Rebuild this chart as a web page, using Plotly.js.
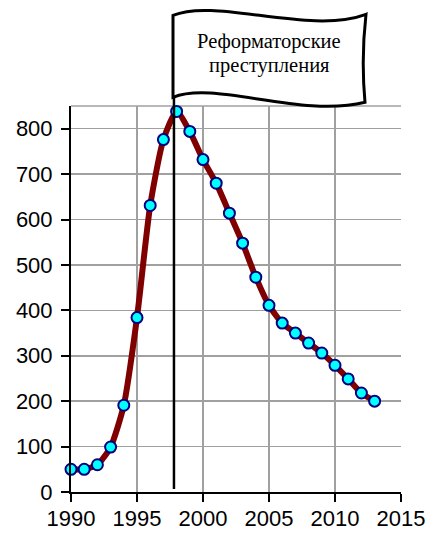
<!DOCTYPE html>
<html>
<head>
<meta charset="utf-8">
<script src="https://cdn.plot.ly/plotly-3.0.1.min.js"></script>
<style>html,body{margin:0;padding:0;background:#fff;}#chart{width:430px;height:533px;}</style>
</head>
<body>
<div id="chart"></div>
<script>
var years = [1990,1991,1992,1993,1994,1995,1996,1997,1998,1999,2000,2001,2002,2003,2004,2005,2006,2007,2008,2009,2010,2011,2012,2013];
var crimes = [50,50,60,99,191,384,631,776,838,794,732,680,614,548,473,411,372,350,328,306,279,249,218,200];
var flagLines = ["Реформаторские", "преступления"];
var markerYear = 1997.8;

// plot area in pixels: left 71, right 401, top 105.7, bottom 492
var L = 71, R = 401, T = 105.7, B = 492;
function px(x){ return ((x - L) / (R - L)).toFixed(4); }
function py(y){ return ((B - y) / (B - T)).toFixed(4); }
function P(x, y){ return px(x) + ',' + py(y); }

var flagPath = 'M' + P(173,15) +
  ' C' + P(215,-3) + ' ' + P(310,35) + ' ' + P(366,14) +
  ' Q' + P(361,58) + ' ' + P(365,102) +
  ' C' + P(300,118) + ' ' + P(215,80) + ' ' + P(173,97) + ' Z';

var trace = {
  x: years, y: crimes, type: 'scatter', mode: 'lines+markers',
  line: {color: '#800000', width: 6, shape: 'spline', smoothing: 0.6},
  marker: {size: 11, color: '#00ffff', line: {color: '#000080', width: 2}},
  cliponaxis: false, hoverinfo: 'x+y'
};

var tf = {family: 'Liberation Sans, Arial, sans-serif', size: 22, color: '#000'};

var layout = {
  width: 430, height: 533,
  margin: {l: L, r: 430 - R, t: T, b: 533 - B, pad: 0},
  paper_bgcolor: '#fff', plot_bgcolor: '#fff',
  showlegend: false,
  font: tf,
  xaxis: {
    range: [1990, 2015], dtick: 5, tick0: 1990,
    ticks: 'outside', ticklen: 8, tickwidth: 2, tickcolor: '#000',
    showline: true, linecolor: '#000', linewidth: 2,
    showgrid: true, gridcolor: '#a0a0a0', gridwidth: 1.5, zeroline: false,
    ticklabelstandoff: -2,
    tickfont: tf
  },
  yaxis: {
    range: [0, 850], dtick: 100, tick0: 0,
    ticks: 'outside', ticklen: 8, tickwidth: 2, tickcolor: '#000',
    showline: true, linecolor: '#000', linewidth: 2,
    showgrid: true, gridcolor: '#a0a0a0', gridwidth: 1.5, zeroline: false,
    ticklabelstandoff: 4,
    tickfont: tf
  },
  shapes: [
    {type: 'line', xref: 'paper', yref: 'paper', x0: 0, x1: 1, y0: 1, y1: 1,
     line: {color: '#a0a0a0', width: 1.5}, layer: 'below'},
    {type: 'line', xref: 'x', yref: 'paper', x0: markerYear, x1: markerYear, y0: 0.008, y1: py(15),
     line: {color: '#000', width: 2.5}, layer: 'above'},
    {type: 'path', xref: 'paper', yref: 'paper', path: flagPath,
     fillcolor: '#fff', line: {color: '#000', width: 3}, layer: 'above'}
  ],
  annotations: [
    {xref: 'paper', yref: 'paper', x: px(269), y: py(41), xanchor: 'center', yanchor: 'middle',
     text: flagLines[0], showarrow: false,
     font: {family: 'Liberation Serif, Times New Roman, serif', size: 20.5, color: '#000'}},
    {xref: 'paper', yref: 'paper', x: px(269), y: py(65), xanchor: 'center', yanchor: 'middle',
     text: flagLines[1], showarrow: false,
     font: {family: 'Liberation Serif, Times New Roman, serif', size: 20.5, color: '#000'}}
  ]
};

Plotly.newPlot('chart', [trace], layout, {displayModeBar: false, staticPlot: true});
</script>
</body>
</html>
